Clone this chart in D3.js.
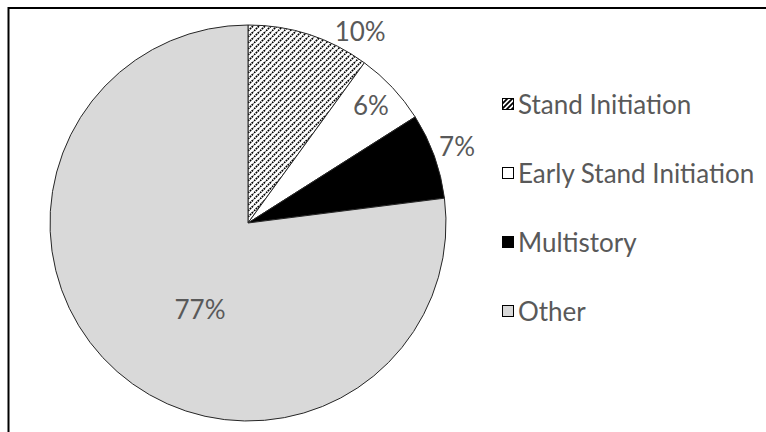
<!DOCTYPE html>
<html>
<head>
<meta charset="utf-8">
<script src="https://cdn.jsdelivr.net/npm/d3@7/dist/d3.min.js"></script>
<style>
  html, body { margin: 0; padding: 0; background: #fff; }
  svg { display: block; }
  text { font-family: Lato, "Open Sans", sans-serif; fill: #595959; }
</style>
</head>
<body>
<svg id="chart" width="766" height="432"></svg>
<script>
// Share of stand structure classes (percent)
const categories = ["Stand Initiation", "Early Stand Initiation", "Multistory", "Other"];
const values = [10, 6, 7, 77];
const labels = ["10%", "6%", "7%", "77%"];

// Fill for each class
const fills = ["url(#hatch)", "#ffffff", "#000000", "#d9d9d9"];

// Where each percentage label sits: fraction of radius and an angular nudge (degrees)
const labelRadius = [1.123, 0.86, 1.125, 0.497];
const labelNudge = [12.3, -0.6, -0.4, -12.2];

const W = 766, H = 432;
const cx = 248, cy = 223, R = 198;
const fontSize = 26;

const svg = d3.select("#chart");

// Diagonal hatch pattern for the first slice
const defs = svg.append("defs");
const pat = defs.append("pattern")
  .attr("id", "hatch")
  .attr("patternUnits", "userSpaceOnUse")
  .attr("width", 6).attr("height", 6);
pat.append("rect").attr("width", 6).attr("height", 6).attr("fill", "#fff");
pat.append("path")
  .attr("d", "M-1.5,1.5 l3,-3 M0,6 l6,-6 M4.5,7.5 l3,-3")
  .attr("stroke", "#000").attr("stroke-width", 1.7)
  .attr("stroke-dasharray", "1.8,0.8");

// Hatch for the legend swatch
const pat2 = defs.append("pattern")
  .attr("id", "hatchSmall")
  .attr("patternUnits", "userSpaceOnUse")
  .attr("width", 5).attr("height", 5);
pat2.append("rect").attr("width", 5).attr("height", 5).attr("fill", "#fff");
pat2.append("path")
  .attr("d", "M-1,1 l2,-2 M0,5 l5,-5 M4,6 l2,-2")
  .attr("stroke", "#000").attr("stroke-width", 1.8);

// Outer frame (top and left edges visible)
svg.append("path")
  .attr("d", `M8.5,${H} V8 H${W}`)
  .attr("fill", "none").attr("stroke", "#000").attr("stroke-width", 2);

const pie = d3.pie().sort(null).value(d => d)(values);
const arc = d3.arc().innerRadius(0).outerRadius(R);

const g = svg.append("g").attr("transform", `translate(${cx},${cy})`);

g.selectAll("path.slice")
  .data(pie)
  .join("path")
  .attr("class", "slice")
  .attr("d", arc)
  .attr("fill", (d, i) => fills[i])
  .attr("stroke", "#262626")
  .attr("stroke-width", 1);

// Percentage labels
g.selectAll("text.pct")
  .data(pie)
  .join("text")
  .attr("class", "pct")
  .attr("text-anchor", "middle")
  .attr("dominant-baseline", "central")
  .attr("font-size", fontSize)
  .attr("transform", (d, i) => {
    const a = (d.startAngle + d.endAngle) / 2 + labelNudge[i] * Math.PI / 180;
    const r = R * labelRadius[i];
    return `translate(${r * Math.sin(a)},${-r * Math.cos(a)})`;
  })
  .text((d, i) => labels[i]);

// Legend
const legendY = d3.scalePoint().domain(categories).range([104, 311]);
const item = svg.append("g").selectAll("g.item")
  .data(categories)
  .join("g")
  .attr("class", "item")
  .attr("transform", d => `translate(502,${legendY(d)})`);

item.append("rect")
  .attr("x", 0.5).attr("y", -5.5)
  .attr("width", 11).attr("height", 11)
  .attr("fill", (d, i) => fills[i] === "url(#hatch)" ? "url(#hatchSmall)" : fills[i])
  .attr("stroke", "#000").attr("stroke-width", 1);

item.append("text")
  .attr("x", 16)
  .attr("dominant-baseline", "central")
  .attr("font-size", fontSize)
  .text(d => d);
</script>
</body>
</html>
